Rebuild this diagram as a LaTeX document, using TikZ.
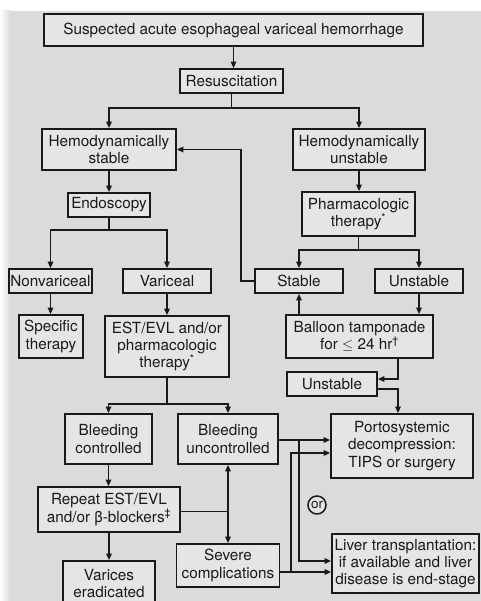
\documentclass[tikz,border=0pt]{standalone}
\usepackage{fontspec}
\setmainfont{TeX Gyre Heros}
\usetikzlibrary{arrows.meta,calc}
\definecolor{bg}{gray}{0.86}
\definecolor{boxbg}{gray}{0.90}
\definecolor{ink}{gray}{0.10}
\begin{document}
\begin{tikzpicture}[x=1bp,y=-1bp,
  box/.style={draw=ink, line width=1.8bp, fill=boxbg, text=ink, inner sep=0pt, align=center,
    font=\fontsize{15.3bp}{17.3bp}\selectfont},
  conn/.style={draw=ink, line width=1.6bp},
  arr/.style={conn, -{Triangle[length=6.5bp,width=5.5bp]}},
  darr/.style={conn, {Triangle[length=6.5bp,width=5.5bp]}-{Triangle[length=6.5bp,width=5.5bp]}},
]
\useasboundingbox (0,0) rectangle (481,601);
\fill[white] (0,0) rectangle (481,11);
\fill[bg] (0,11) rectangle (481,601);
\shade[left color=white, right color=bg] (0,11) rectangle (10,601);

% nodes
\node[box, minimum width=379bp, minimum height=32bp] (title) at (233.5,30) {Suspected acute esophageal variceal hemorrhage};
\node[box, minimum width=103bp, minimum height=24bp] (resus) at (231.5,81) {Resuscitation};
\node[box, minimum width=134bp, minimum height=41bp] (hs) at (109,149.5) {Hemodynamically\\stable};
\node[box, minimum width=132bp, minimum height=41bp] (hu) at (359,149.5) {Hemodynamically\\unstable};
\node[box, minimum width=82bp, minimum height=24bp] (endo) at (109,205) {Endoscopy};
\node[box, minimum width=113bp, minimum height=44bp] (pharm) at (358.5,214) {Pharmacologic\\therapy\textsuperscript{*}};
\node[box, minimum width=83bp, minimum height=24bp] (nonv) at (50.5,281) {Nonvariceal};
\node[box, minimum width=88bp, minimum height=24bp] (varic) at (167,281) {Variceal};
\node[box, minimum width=88bp, minimum height=24bp] (stab) at (299,281) {Stable};
\node[box, minimum width=88bp, minimum height=24bp] (unst) at (419,281) {Unstable};
\node[box, minimum width=64bp, minimum height=43bp] (spec) at (51,336.5) {Specific\\therapy};
\node[box, minimum width=124bp, minimum height=61bp] (est) at (167,346.5) {EST/EVL and/or\\pharmacologic\\therapy\textsuperscript{*}};
\node[box, minimum width=147bp, minimum height=43bp] (ball) at (359.5,336.5) {Balloon tamponade\\for $\le$ 24 hr\textsuperscript{\textdagger}};
\node[box, minimum width=90bp, minimum height=24bp] (unst2) at (332,384) {Unstable};
\node[box, minimum width=87bp, minimum height=50bp] (bc) at (108.5,439) {Bleeding\\controlled};
\node[box, minimum width=100bp, minimum height=50bp] (bu) at (228,439) {Bleeding\\uncontrolled};
\node[box, minimum width=142bp, minimum height=64bp] (porto) at (402,446) {Portosystemic\\decompression:\\TIPS or surgery};
\node[box, minimum width=142bp, minimum height=45bp] (rep) at (109,509.5) {Repeat EST/EVL\\and/or β-blockers\textsuperscript{\textdaggerdbl}};
\node[box, minimum width=92bp, minimum height=45bp] (var) at (109,583.5) {Varices\\eradicated};
\node[box, minimum width=103bp, minimum height=43bp] (sev) at (228,565.5) {Severe\\complications};
\node[box, minimum width=147bp, minimum height=59bp] (liver) at (405.5,563.5) {Liver transplantation:\\if available and liver\\disease is end-stage};
\node[circle, draw=ink, line width=1.5bp, fill=boxbg, text=ink, inner sep=0pt, minimum size=18bp,
  font=\fontsize{13.5bp}{13.5bp}\selectfont] (or) at (317,505) {or};

% helper coordinates
\coordinate (rsplit) at ($(resus.south)+(0,14)$);
\coordinate (esplit) at ($(endo.south)+(0,12)$);
\coordinate (psplit) at ($(pharm.south)+(0,13)$);
\coordinate (ssplit) at ($(est.south)+(0,26)$);
\coordinate (bx) at (398,0);
\coordinate (j1) at (299,0);
\coordinate (j2) at (291,0);

% connectors
\draw[arr] (title.south) -- (title.south |- resus.north);
\draw[conn] (resus.south) -- (rsplit);
\draw[arr] (rsplit) -| (hs.north);
\draw[arr] (rsplit) -| (hu.north);
\draw[arr] (hs.south) -- (endo.north);
\draw[arr] (hu.south) -- (hu.south |- pharm.north);
\draw[conn] (endo.south) -- (esplit);
\draw[arr] (esplit) -| (nonv.north);
\draw[arr] (esplit) -| (varic.north);
\draw[arr] (nonv.south) -- (nonv.south |- spec.north);
\draw[arr] (varic.south) -- (est.north);
\draw[conn] (pharm.south) -- (psplit);
\draw[arr] (psplit) -| (stab.north);
\draw[arr] (psplit) -| (unst.north);
\draw[arr] (stab.west) -- ++(-13,0) |- (hs.east);
\draw[arr] (stab.south |- ball.north) -- (stab.south);
\draw[arr] (unst.south) -- (unst.south |- ball.north);
\draw[arr] (ball.south -| bx) |- ([yshift=5bp]unst2.east);
\draw[arr] ([yshift=-5bp]unst2.east) -| (porto.north -| bx);
\draw[conn] (est.south) -- (ssplit);
\draw[arr] (ssplit) -| (bc.north);
\draw[arr] (ssplit) -| (bu.north);
\draw[arr] (bc.south) -- (bc.south |- rep.north);
\draw[arr] (var.north |- rep.south) -- (var.north);
\draw[darr] (bu.south) -- (bu.south |- sev.north);
\draw[conn] ([yshift=-2bp]rep.east) -- ([yshift=-2bp]rep.east -| bu.south);
\draw[arr] ([yshift=-1bp]bu.east) -- ([yshift=-1bp]bu.east -| porto.west);
\draw[arr] ([yshift=-1bp]bu.east -| j1) |- ([yshift=2.5bp]liver.west);
\draw[arr] ([yshift=-6.5bp]sev.east) -- ([yshift=-6.5bp]sev.east -| liver.west);
\draw[arr] ([yshift=-6.5bp]sev.east -| j2) |- ([yshift=-7bp]porto.west);
\end{tikzpicture}
\end{document}
